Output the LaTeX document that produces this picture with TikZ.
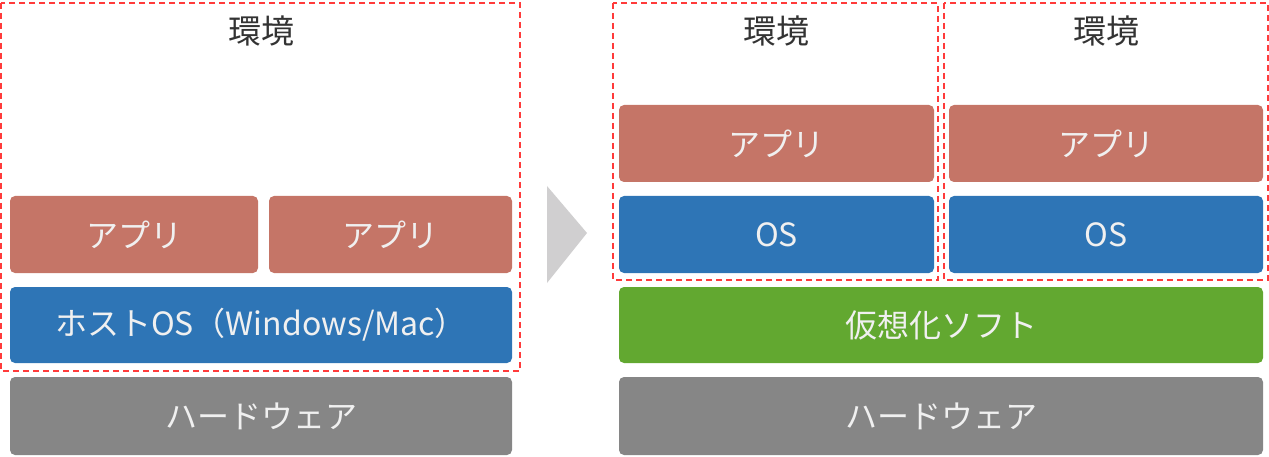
\documentclass[tikz,border=0pt]{standalone}
\usepackage{fontspec}
\setmainfont{Noto Sans CJK JP}
\definecolor{appred}{HTML}{C57567}
\definecolor{osblue}{HTML}{2E75B6}
\definecolor{virtgreen}{HTML}{62A830}
\definecolor{hwgray}{HTML}{868686}
\definecolor{envred}{HTML}{FF3B3B}
\definecolor{arrowgray}{HTML}{D0CFD0}
\begin{document}
\begin{tikzpicture}[x=1pt,y=-1pt,
  layer/.style={rounded corners=5pt,inner sep=0pt,text=white!94!black,font=\fontsize{32}{32}\selectfont,minimum height=77pt},
  envbox/.style={draw=envred,line width=2.2pt,dash pattern=on 6pt off 4pt},
  envlabel/.style={text=black!80,font=\fontsize{33}{33}\selectfont,inner sep=0pt}]
\useasboundingbox (0,0) rectangle (1269,457);

% left: host environment
\draw[envbox] (1,3) rectangle (520,371);
\node[envlabel] (envL) at (261,31) {環境};
\node[layer,fill=appred,minimum width=248pt] (appL1) at (134,234.5) {アプリ};
\node[layer,fill=appred,minimum width=243pt] (appL2) at (390.5,234.5) {アプリ};
\node[layer,fill=osblue,minimum width=502pt,minimum height=76pt] (host) at (261,325) {ホストOS（Windows/Mac）};
\node[layer,fill=hwgray,minimum width=502pt,minimum height=78pt] (hwL) at (261,416) {ハードウェア};

% arrow
\fill[arrowgray] (547,186) -- (587,233) -- (547,283) -- cycle;

% right: virtual environments
\draw[envbox] (613,3) rectangle (938,280);
\draw[envbox] (944,3) rectangle (1268,280);
\node[envlabel] (envA) at (776.5,31) {環境};
\node[envlabel] (envB) at (1106,31) {環境};
\node[layer,fill=appred,minimum width=315pt] (appA) at (776.5,143.5) {アプリ};
\node[layer,fill=appred,minimum width=314pt] (appB) at (1106,143.5) {アプリ};
\node[layer,fill=osblue,minimum width=315pt] (osA) at (776.5,234.5) {OS};
\node[layer,fill=osblue,minimum width=314pt] (osB) at (1106,234.5) {OS};
\node[layer,fill=virtgreen,minimum width=644pt,minimum height=76pt] (virt) at (941,325) {仮想化ソフト};
\node[layer,fill=hwgray,minimum width=644pt,minimum height=78pt] (hwR) at (941,416) {ハードウェア};
\end{tikzpicture}
\end{document}
